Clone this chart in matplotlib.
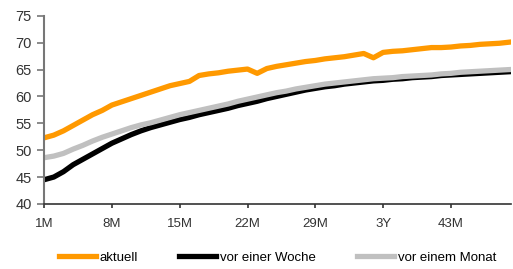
import matplotlib
matplotlib.use('Agg')
import matplotlib.pyplot as plt
import numpy as np

plt.rcParams['font.family'] = ['Liberation Sans', 'DejaVu Sans']

# months 1..49, 36M shown as 3Y
months = list(range(1, 50))
labels = ["3Y" if m == 36 else f"{m}M" for m in months]

aktuell = [52.3, 52.8, 53.6, 54.6, 55.6, 56.6, 57.4, 58.4, 59.0, 59.6,
           60.2, 60.8, 61.4, 62.0, 62.4, 62.8, 63.9, 64.2, 64.4, 64.7,
           64.9, 65.1, 64.3, 65.2, 65.6, 65.9, 66.2, 66.5, 66.7, 67.0,
           67.2, 67.4, 67.7, 68.0, 67.2, 68.2, 68.4, 68.5, 68.7, 68.9,
           69.1, 69.1, 69.2, 69.4, 69.5, 69.7, 69.8, 69.9, 70.1]
vor_woche = [44.5, 45.0, 46.0, 47.3, 48.3, 49.3, 50.3, 51.3, 52.1, 52.9,
             53.6, 54.2, 54.7, 55.2, 55.7, 56.1, 56.6, 57.0, 57.4, 57.8,
             58.3, 58.7, 59.1, 59.6, 60.0, 60.4, 60.8, 61.2, 61.5, 61.8,
             62.0, 62.3, 62.5, 62.7, 62.9, 63.0, 63.2, 63.3, 63.5, 63.6,
             63.7, 63.9, 64.0, 64.1, 64.2, 64.3, 64.4, 64.5, 64.6]
vor_monat = [48.6, 48.9, 49.4, 50.2, 50.9, 51.7, 52.4, 53.0, 53.6, 54.2,
             54.7, 55.1, 55.6, 56.1, 56.6, 57.0, 57.4, 57.8, 58.2, 58.6,
             59.1, 59.5, 59.9, 60.3, 60.7, 61.0, 61.4, 61.7, 62.0, 62.3,
             62.5, 62.7, 62.9, 63.1, 63.3, 63.4, 63.5, 63.7, 63.8, 63.9,
             64.0, 64.2, 64.3, 64.5, 64.6, 64.7, 64.8, 64.9, 65.0]

fig = plt.figure(figsize=(5.13, 2.69), dpi=100)
ax = fig.add_axes([0.086, 0.242, 0.91, 0.699])

x = np.arange(len(months))
ax.plot(x, aktuell, color='#FF9900', linewidth=3.8, label='aktuell', solid_joinstyle='round')
ax.plot(x, vor_woche, color='black', linewidth=3.8, label='vor einer Woche', solid_joinstyle='round')
ax.plot(x, vor_monat, color='#C0C0C0', linewidth=3.8, label='vor einem Monat', solid_joinstyle='round')

ax.set_xlim(0, len(months) - 0.8)
ax.set_ylim(40, 75)
ax.set_yticks(range(40, 80, 5))
ax.set_xticks(x[::7])
ax.set_xticklabels(labels[::7])

for side in ['top', 'right']:
    ax.spines[side].set_visible(False)
ax.spines['left'].set_color('#777777')
ax.spines['left'].set_linewidth(1.5)
ax.spines['bottom'].set_color('#333333')
ax.spines['bottom'].set_linewidth(1.2)
ax.tick_params(axis='y', direction='out', length=5, width=1.2, color='#777777',
               labelsize=10.5, labelcolor='#333333', pad=4)
ax.tick_params(axis='x', direction='out', length=3, width=1.2, color='#333333',
               labelsize=9.5, labelcolor='#333333', pad=7)

leg = ax.legend(loc='upper center', bbox_to_anchor=(0.5, -0.19), ncol=3, frameon=False,
                fontsize=9.5, handlelength=2.8, handletextpad=0.3, columnspacing=3.1)

fig.savefig('out.png', dpi=100)
